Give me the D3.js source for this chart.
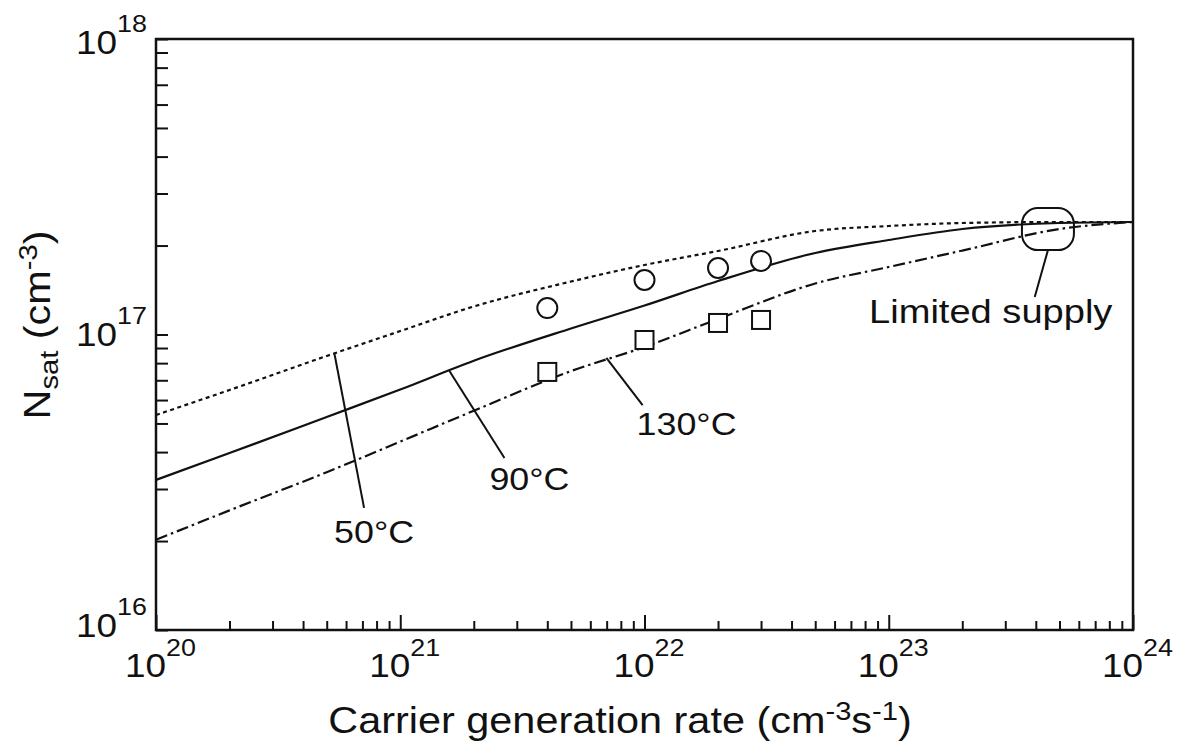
<!DOCTYPE html>
<html>
<head>
<meta charset="utf-8">
<script src="https://cdn.jsdelivr.net/npm/d3@7"></script>
<style>
  body { margin: 0; background: #fff; }
  svg { display: block; }
  text { font-family: "Liberation Sans", Arial, Helvetica, sans-serif; fill: #111; }
</style>
</head>
<body>
<svg id="chart" width="1199" height="752"></svg>
<script>
// Carrier generation rate samples (cm^-3 s^-1)
const rate = [1e20, 2e20, 5e20, 1e21, 2e21, 5e21, 1e22, 2e22, 5e22, 1e23, 2e23, 5e23, 1e24];
// Saturated carrier density N_sat (cm^-3) for each temperature
const nsat50  = [5.34e16, 6.49e16, 8.46e16, 1.027e17, 1.244e17, 1.511e17, 1.719e17, 1.917e17, 2.24e17, 2.329e17, 2.384e17, 2.403e17, 2.403e17];
const nsat90  = [3.22e16, 3.97e16, 5.26e16, 6.51e16, 8.15e16, 1.048e17, 1.253e17, 1.517e17, 1.887e17, 2.088e17, 2.275e17, 2.384e17, 2.403e17];
const nsat130 = [2.02e16, 2.54e16, 3.42e16, 4.34e16, 5.52e16, 7.52e16, 9.07e16, 1.129e17, 1.488e17, 1.692e17, 1.923e17, 2.275e17, 2.403e17];

// Measured points
const measRate = [4e21, 1e22, 2e22, 3e22];
const meas90   = [1.229e17, 1.529e17, 1.679e17, 1.774e17];   // circles
const meas130  = [7.47e16, 9.58e16, 1.094e17, 1.12e17];      // squares

// Axis tick values
const xDecades = [1e20, 1e21, 1e22, 1e23, 1e24];
const xExponents = ["20", "21", "22", "23", "24"];
const yDecades = [1e16, 1e17, 1e18];
const yExponents = ["16", "17", "18"];

// Annotations (data coordinates)
const tempLabels = ["50°C", "90°C", "130°C"];
const leaderFrom = [[5.37e20, 8.66e16], [1.59e21, 7.52e16], [6.98e21, 8.33e16]];
const leaderTo   = [[7.11e20, 2.59e16], [2.67e21, 3.82e16], [9.82e21, 5.77e16]];
const supplyBoxX = [3.51e23, 5.73e23];
const supplyBoxY = [1.93e17, 2.68e17];
const supplyLeaderTo = [3.96e23, 1.339e17];
const supplyText = "Limited supply";

const svg = d3.select("#chart");
const SX = 1.12; // horizontal stretch of lettering

const x = d3.scaleLog().domain([1e20, 1e24]).range([156, 1133]);
const y = d3.scaleLog().domain([1e16, 1e18]).range([630, 39]);

function minorTicks(decades) {
  const out = [];
  for (let i = 0; i < decades.length - 1; i++)
    for (let k = 2; k <= 9; k++) out.push(decades[i] * k);
  return out;
}

// ---- x axis ----
const gx = svg.append("g").attr("transform", `translate(0,${y(1e16)})`);
const gxMinor = gx.append("g")
  .call(d3.axisBottom(x).tickValues(minorTicks(xDecades)).tickSize(-9).tickFormat(""));
const gxMajor = gx.append("g")
  .call(d3.axisBottom(x).tickValues(xDecades).tickSize(-15).tickFormat(""));
gx.selectAll(".domain").remove();
gx.selectAll(".tick line").attr("stroke", "#111").attr("stroke-width", 2);

gxMajor.selectAll(".tick").each(function (d, i) {
  const t = d3.select(this).append("text")
    .attr("transform", `translate(4,47) scale(${SX},1)`)
    .attr("text-anchor", "middle")
    .attr("font-size", 33);
  t.append("tspan").text("10");
  t.append("tspan").attr("dy", -21).attr("font-size", 24).text(xExponents[i]);
});

// ---- y axis ----
const yLabelDy = [6, 11, 14];
const gy = svg.append("g").attr("transform", `translate(${x(1e20)},0)`);
gy.call(d3.axisLeft(y).tickValues(minorTicks(yDecades).concat(yDecades)).tickSize(-12).tickFormat(""));
gy.selectAll(".domain").remove();
gy.selectAll(".tick line").attr("stroke", "#111").attr("stroke-width", 2);
gy.selectAll(".tick").filter(d => yDecades.includes(d)).each(function (d) {
  const i = yDecades.indexOf(d);
  const t = d3.select(this).append("text")
    .attr("transform", `translate(-9,${yLabelDy[i]}) scale(${SX},1)`)
    .attr("text-anchor", "end")
    .attr("font-size", 33);
  t.append("tspan").text("10");
  t.append("tspan").attr("dy", -22).attr("font-size", 24).text(yExponents[i]);
});

// frame
svg.append("rect")
  .attr("x", x(1e20)).attr("y", y(1e18))
  .attr("width", x(1e24) - x(1e20)).attr("height", y(1e16) - y(1e18))
  .attr("fill", "none").attr("stroke", "#111").attr("stroke-width", 2.5);

// axis titles
const xt = svg.append("text")
  .attr("transform", `translate(620,733) scale(${SX},1)`)
  .attr("text-anchor", "middle").attr("font-size", 37);
xt.append("tspan").text("Carrier generation rate (cm");
xt.append("tspan").attr("dy", -13).attr("font-size", 26).text("-3");
xt.append("tspan").attr("dy", 13).text("s");
xt.append("tspan").attr("dy", -13).attr("font-size", 26).text("-1");
xt.append("tspan").attr("dy", 13).text(")");

const yt = svg.append("text")
  .attr("transform", `translate(50,325) rotate(-90) scale(${SX},1)`)
  .attr("text-anchor", "middle").attr("font-size", 37);
yt.append("tspan").text("N");
yt.append("tspan").attr("dy", 8).attr("font-size", 26).text("sat");
yt.append("tspan").attr("dy", -8).text(" (cm");
yt.append("tspan").attr("dy", -13).attr("font-size", 26).text("-3");
yt.append("tspan").attr("dy", 13).text(")");

// ---- curves ----
const line = d3.line().x(d => x(d[0])).y(d => y(d[1])).curve(d3.curveMonotoneX);
const series = [
  { v: nsat50,  dash: "4,3.5" },
  { v: nsat90,  dash: null },
  { v: nsat130, dash: "12,4,2.5,4" }
];
const plot = svg.append("g");
series.forEach(s => {
  plot.append("path")
    .attr("d", line(rate.map((r, i) => [r, s.v[i]])))
    .attr("fill", "none").attr("stroke", "#111").attr("stroke-width", 2.2)
    .attr("stroke-dasharray", s.dash);
});

// ---- leaders and temperature labels ----
const labelOffset = [[10, 35], [25, 32], [44, 30]];
tempLabels.forEach((lab, i) => {
  const x1 = x(leaderFrom[i][0]), y1 = y(leaderFrom[i][1]);
  const x2 = x(leaderTo[i][0]),   y2 = y(leaderTo[i][1]);
  plot.append("line").attr("x1", x1).attr("y1", y1).attr("x2", x2).attr("y2", y2)
    .attr("stroke", "#111").attr("stroke-width", 2);
  plot.append("text")
    .attr("transform", `translate(${x2 + labelOffset[i][0]},${y2 + labelOffset[i][1]}) scale(${SX},1)`)
    .attr("text-anchor", "middle").attr("font-size", 32).text(lab);
});

// ---- measured points ----
measRate.forEach((r, i) => {
  plot.append("circle").attr("cx", x(r)).attr("cy", y(meas90[i])).attr("r", 10)
    .attr("fill", "#fff").attr("stroke", "#111").attr("stroke-width", 2);
  const s = 18;
  plot.append("rect").attr("x", x(r) - s / 2).attr("y", y(meas130[i]) - s / 2)
    .attr("width", s).attr("height", s)
    .attr("fill", "#fff").attr("stroke", "#111").attr("stroke-width", 2);
});

// ---- limited supply marker ----
const bx0 = x(supplyBoxX[0]), bx1 = x(supplyBoxX[1]);
const by0 = y(supplyBoxY[1]), by1 = y(supplyBoxY[0]);
plot.append("rect").attr("x", bx0).attr("y", by0)
  .attr("width", bx1 - bx0).attr("height", by1 - by0).attr("rx", 16).attr("ry", 16)
  .attr("fill", "none").attr("stroke", "#111").attr("stroke-width", 2);
const lx2 = x(supplyLeaderTo[0]), ly2 = y(supplyLeaderTo[1]);
plot.append("line").attr("x1", (bx0 + bx1) / 2).attr("y1", by1).attr("x2", lx2).attr("y2", ly2)
  .attr("stroke", "#111").attr("stroke-width", 2);
plot.append("text")
  .attr("transform", `translate(${lx2 - 44},${ly2 + 26}) scale(${SX},1)`)
  .attr("text-anchor", "middle").attr("font-size", 34).text(supplyText);
</script>
</body>
</html>
